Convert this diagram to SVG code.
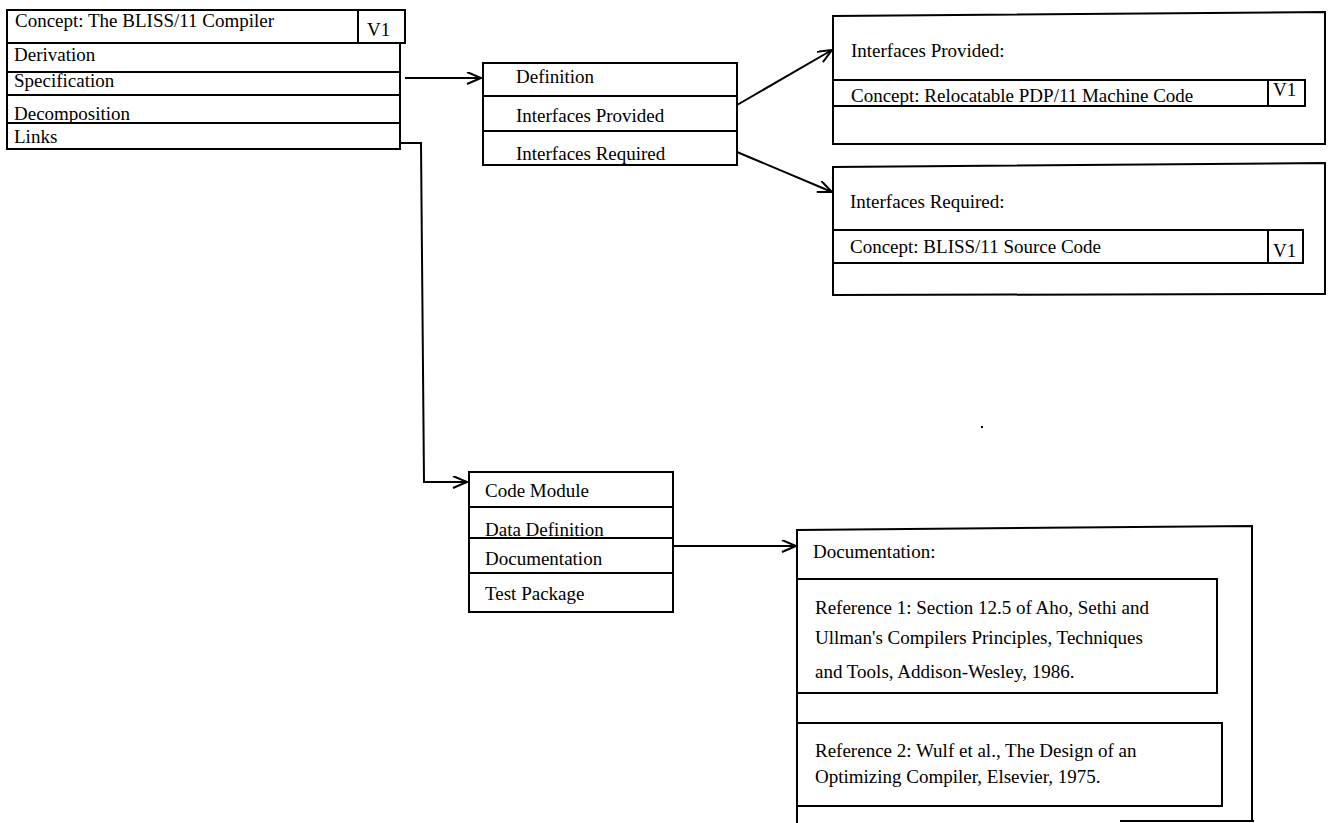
<svg xmlns="http://www.w3.org/2000/svg" width="1328" height="823" viewBox="0 0 1328 823">
  <style>
    .box { fill: none; stroke: #000; stroke-width: 2; }
    .ln { fill: none; stroke: #000; stroke-width: 2; }
    text { font-family: "Liberation Serif", "Times New Roman", serif; font-size: 19px; fill: #000; }
  </style>
  <defs>
    <marker id="open" markerUnits="userSpaceOnUse" markerWidth="18" markerHeight="14" refX="15" refY="6" orient="auto">
      <path d="M1,0 L15,6 L1,12" fill="none" stroke="#000" stroke-width="2"/>
    </marker>
  </defs>
  <rect width="1328" height="823" fill="#fff"/>

  <!-- concept card: the compiler -->
  <g id="compiler">
    <rect class="box" x="7" y="10" width="351" height="33"/>
    <rect class="box" x="358" y="10" width="47" height="33"/>
    <rect class="box" x="7" y="43" width="393" height="29"/>
    <rect class="box" x="7" y="72" width="393" height="23"/>
    <rect class="box" x="7" y="95" width="393" height="28"/>
    <rect class="box" x="7" y="123" width="393" height="26"/>
    <text x="15" y="27">Concept: The BLISS/11 Compiler</text>
    <text x="367" y="36">V1</text>
    <text x="14" y="61">Derivation</text>
    <text x="14" y="87">Specification</text>
    <text x="14" y="120">Decomposition</text>
    <text x="14" y="143">Links</text>
  </g>

  <!-- specification menu -->
  <g id="specification">
    <rect class="box" x="483" y="63" width="254" height="33"/>
    <rect class="box" x="483" y="96" width="254" height="35"/>
    <rect class="box" x="483" y="131" width="254" height="34"/>
    <text x="516" y="83">Definition</text>
    <text x="516" y="122">Interfaces Provided</text>
    <text x="516" y="160">Interfaces Required</text>
  </g>

  <!-- interfaces provided panel -->
  <g id="provided">
    <path class="ln" d="M833,144 V16 L1325,12 V144 Z"/>
    <rect class="box" x="833" y="80" width="435" height="26"/>
    <rect class="box" x="1268" y="80" width="37" height="26"/>
    <text x="851" y="57">Interfaces Provided:</text>
    <text x="851" y="102">Concept: Relocatable PDP/11 Machine Code</text>
    <text x="1273" y="96">V1</text>
  </g>

  <!-- interfaces required panel -->
  <g id="required">
    <path class="ln" d="M833,295 V167 L1325,163 V294 Z"/>
    <rect class="box" x="833" y="230" width="435" height="33"/>
    <rect class="box" x="1268" y="230" width="35" height="33"/>
    <text x="850" y="208">Interfaces Required:</text>
    <text x="850" y="253">Concept: BLISS/11 Source Code</text>
    <text x="1273" y="257">V1</text>
  </g>

  <!-- links menu -->
  <g id="links">
    <rect class="box" x="469" y="472" width="204" height="35"/>
    <rect class="box" x="469" y="507" width="204" height="31"/>
    <rect class="box" x="469" y="538" width="204" height="35"/>
    <rect class="box" x="469" y="573" width="204" height="39"/>
    <text x="485" y="497">Code Module</text>
    <text x="485" y="536">Data Definition</text>
    <text x="485" y="565">Documentation</text>
    <text x="485" y="600">Test Package</text>
  </g>

  <!-- documentation panel -->
  <g id="documentation">
    <path class="ln" d="M797,823 V530 L1252,526 V821 M1254,821 H1120"/>
    <rect class="box" x="797" y="579" width="420" height="114"/>
    <rect class="box" x="797" y="723" width="425" height="83"/>
    <text x="813" y="558">Documentation:</text>
    <text x="815" y="614">Reference 1: Section 12.5 of Aho, Sethi and</text>
    <text x="815" y="644">Ullman's Compilers Principles, Techniques</text>
    <text x="815" y="678">and Tools, Addison-Wesley, 1986.</text>
    <text x="815" y="757">Reference 2: Wulf et al., The Design of an</text>
    <text x="815" y="783">Optimizing Compiler, Elsevier, 1975.</text>
  </g>

  <!-- connectors -->
  <g id="connectors">
    <line class="ln" x1="405" y1="78" x2="481" y2="78" marker-end="url(#open)"/>
    <polyline class="ln" points="400,143 421,143 424,482 467,482" marker-end="url(#open)"/>
    <line class="ln" x1="737" y1="105" x2="832" y2="50" marker-end="url(#open)"/>
    <line class="ln" x1="737" y1="152" x2="832" y2="192" marker-end="url(#open)"/>
    <line class="ln" x1="673" y1="546" x2="796" y2="546" marker-end="url(#open)"/>
  </g>

  <rect x="981" y="426" width="2" height="2" fill="#000"/>
</svg>
